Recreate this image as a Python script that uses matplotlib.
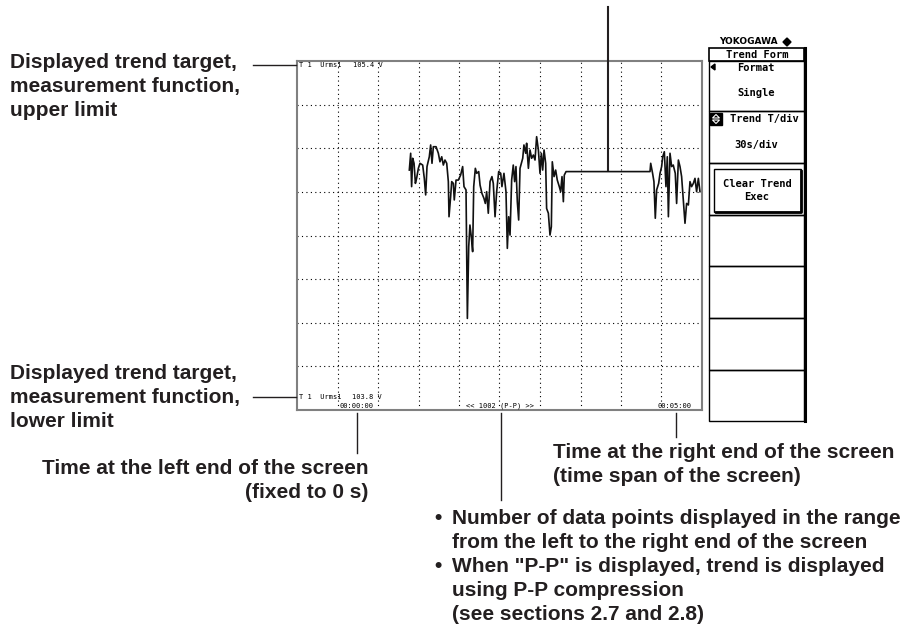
import matplotlib
matplotlib.use("Agg")
import matplotlib.pyplot as plt
from matplotlib.patches import Rectangle, Polygon

# trend data (time in s, Urms1 in V)
t_s = [83.2, 84.2, 84.9, 85.7, 86.7, 87.7, 88.6, 89.9, 91.1, 93.1, 94.3, 95.3, 96.3, 98.0,
       99.0, 100.0, 101.0, 103.0, 104.7, 105.9, 107.2, 108.4, 109.6, 110.9, 112.1, 112.6,
       113.8, 114.6, 115.8, 116.5, 117.8, 119.5, 121.2, 122.7, 123.7, 125.2, 126.2, 127.2,
       128.1, 129.1, 130.1, 130.9, 132.1, 133.1, 134.6, 135.6, 137.0, 138.5, 139.5, 140.5,
       141.7, 143.0, 144.4, 145.4, 146.7, 147.9, 149.4, 150.9, 151.8, 153.3, 154.8, 155.8,
       156.8, 157.8, 159.0, 160.2, 161.2, 162.2, 163.2, 164.2, 165.2, 167.2, 168.1, 169.4,
       170.1, 171.4, 172.6, 173.8, 175.1, 176.3, 177.5, 178.8, 180.0, 181.0, 182.0, 183.0,
       184.2, 184.9, 186.2, 187.4, 188.4, 189.1, 190.4, 191.6, 192.8, 194.3, 195.3, 196.3,
       197.3, 198.0, 199.3, 261.5, 262.0, 263.4, 264.4, 265.4, 266.4, 267.9, 268.9, 270.1,
       270.9, 272.1, 273.3, 274.3, 275.1, 276.3, 277.5, 278.7, 280.2, 281.2, 282.5, 283.7,
       284.9, 286.2, 287.4, 288.6, 289.9, 291.1, 292.3, 293.6, 294.8, 296.0, 297.3, 298.5]
urms = [104.900, 104.977, 104.824, 104.954, 104.931, 104.839, 104.862, 104.908, 104.931,
        104.923, 104.862, 104.786, 104.916, 104.961, 105.015, 104.931, 105.007, 105.007,
        104.977, 104.938, 104.961, 104.923, 104.946, 104.931, 104.847, 104.686, 104.778,
        104.847, 104.839, 104.763, 104.854, 104.854, 104.877, 104.916, 104.824, 104.809,
        104.220, 104.549, 104.648, 104.595, 104.526, 104.824, 104.908, 104.885, 104.893,
        104.831, 104.793, 104.770, 104.747, 104.801, 104.702, 104.847, 104.870, 104.839,
        104.686, 104.801, 104.893, 104.885, 104.824, 104.885, 104.801, 104.541, 104.686,
        104.602, 104.854, 104.923, 104.847, 104.916, 104.755, 104.671, 104.908, 104.954,
        105.015, 104.977, 105.023, 104.908, 104.992, 104.954, 104.969, 104.946, 105.053,
        104.992, 104.885, 104.977, 104.900, 104.992, 104.931, 104.724, 104.702, 104.602,
        104.640, 104.938, 104.870, 104.900, 104.854, 104.824, 104.801, 104.870, 104.755,
        104.877, 104.893, 104.893, 104.931, 104.885, 104.847, 104.679, 104.809, 104.839,
        104.885, 104.916, 104.961, 104.984, 104.824, 104.961, 104.686, 104.977, 104.916,
        104.923, 104.885, 104.747, 104.946, 104.916, 104.870, 104.755, 104.656, 104.747,
        104.740, 104.847, 104.824, 104.839, 104.862, 104.801, 104.862, 104.801]

upper_v = 105.4
lower_v = 103.8
span_s = 300
n_hdiv = 10
n_vdiv = 8
menu_labels = ["Format", "Single", "Trend T/div", "30s/div", "Clear Trend", "Exec"]

W, H = 917, 630
fig = plt.figure(figsize=(W / 100, H / 100), dpi=100)

# ---- instrument screen ----
sx0, sx1, sy0, sy1 = 297, 702, 61, 410
ax = fig.add_axes([sx0 / W, 1 - sy1 / H, (sx1 - sx0) / W, (sy1 - sy0) / H])
ax.set_xlim(0, span_s)
ax.set_ylim(lower_v, upper_v)
step_v = (upper_v - lower_v) / n_vdiv
for i in range(1, n_hdiv):
    ax.axvline(i * span_s / n_hdiv, color="black", lw=0.8, ls=(0, (1, 3)))
for i in range(1, n_vdiv):
    ax.axhline(lower_v + i * step_v, color="black", lw=0.8, ls=(0, (1, 3)))
ax.plot(t_s, urms, color="#111111", lw=1.2)
ax.set_xticks([])
ax.set_yticks([])
for sp in ax.spines.values():
    sp.set_color("#808080")
    sp.set_linewidth(1.5)

# ---- overlay in pixel coordinates ----
ov = fig.add_axes([0, 0, 1, 1])
ov.set_xlim(0, W)
ov.set_ylim(H, 0)
ov.axis("off")

mono = dict(family="DejaVu Sans Mono", fontsize=5, color="black")
ov.text(299, 65, "T 1  Urms1", va="center", **mono)
ov.text(353, 65, f"{upper_v} V", va="center", **mono)
ov.text(299, 397, "T 1  Urms1", va="center", **mono)
ov.text(352, 397, f"{lower_v} V", va="center", **mono)
ov.text(356, 406, "00:00:00", va="center", ha="center", **mono)
ov.text(500, 406, "<< 1002 (P-P) >>", va="center", ha="center", **mono)
ov.text(675, 406, "00:05:00", va="center", ha="center", **mono)

# soft-key menu
mx0, mx1 = 709, 804
ov.text(748, 42, "YOKOGAWA", ha="center", va="center", fontsize=6.5,
        family="DejaVu Sans", fontweight="bold")
ov.add_patch(Polygon([[787, 38], [791, 42], [787, 46], [783, 42]], closed=True,
                     color="black"))
ov.add_patch(Rectangle((mx0, 48), mx1 - mx0, 13, fill=False, lw=1.2, ec="black"))
ov.text(757, 54.5, "Trend Form", ha="center", va="center", fontsize=7.5,
        family="DejaVu Sans Mono", fontweight="bold")
box_edges = [61, 111, 163, 215, 266, 318, 370, 421]
for a, b in zip(box_edges[:-1], box_edges[1:]):
    ov.add_patch(Rectangle((mx0, a), mx1 - mx0, b - a, fill=False, lw=1.0, ec="black"))
ov.plot([mx1 + 0.5, mx1 + 0.5], [48, 421], color="black", lw=2.2)
mfont = dict(family="DejaVu Sans Mono", fontweight="bold", fontsize=7.5,
             ha="center", va="center")
ov.add_patch(Polygon([[711, 67], [715, 64], [715, 70]], closed=True, color="black"))
ov.text(756, 68, menu_labels[0], **mfont)
ov.text(756, 93, menu_labels[1], **mfont)
ov.add_patch(Rectangle((710, 113), 12, 12, color="black"))
ov.add_patch(Polygon([[712.5, 118], [716, 114.5], [719.5, 118]], closed=True,
                     fill=False, ec="white", lw=0.8))
ov.add_patch(Polygon([[712.5, 120], [716, 123.5], [719.5, 120]], closed=True,
                     fill=False, ec="white", lw=0.8))
ov.text(764, 119, menu_labels[2], **mfont)
ov.text(756, 145, menu_labels[3], **mfont)
ov.add_patch(Rectangle((714, 169), 87, 43, fill=False, lw=1.0, ec="black"))
ov.plot([716, 801, 801], [212, 212, 171], color="black", lw=2.0)
ov.text(757, 184, menu_labels[4], **mfont)
ov.text(757, 197, menu_labels[5], **mfont)

# ---- annotations ----
lab = dict(family="Liberation Sans", fontweight="bold", fontsize=15, color="#231f20",
           va="baseline")
lc = dict(color="#231f20", lw=1.0)
dy = 24

for i, s in enumerate(["Displayed trend target,", "measurement function,", "upper limit"]):
    ov.text(10, 68 + dy * i, s, **lab)
ov.plot([253, 296], [65, 65], **lc)

for i, s in enumerate(["Displayed trend target,", "measurement function,", "lower limit"]):
    ov.text(10, 379 + dy * i, s, **lab)
ov.plot([253, 296], [397, 397], **lc)

ov.plot([357, 357], [413, 453], **lc)
for i, s in enumerate(["Time at the left end of the screen", "(fixed to 0 s)"]):
    ov.text(368, 474 + dy * i, s, ha="right", **lab)

ov.plot([676, 676], [413, 437], **lc)
for i, s in enumerate(["Time at the right end of the screen", "(time span of the screen)"]):
    ov.text(553, 458 + dy * i, s, **lab)

ov.plot([501, 501], [413, 500], **lc)
bullet_lines = [("\u2022", "Number of data points displayed in the range"),
                ("", "from the left to the right end of the screen"),
                ("\u2022", "When \"P-P\" is displayed, trend is displayed"),
                ("", "using P-P compression"),
                ("", "(see sections 2.7 and 2.8)")]
for i, (b, s) in enumerate(bullet_lines):
    if b:
        ov.text(434, 524 + dy * i, b, **lab)
    ov.text(452, 524 + dy * i, s, **lab)

ov.plot([608, 608], [7, 170], color="#231f20", lw=1.5)

fig.savefig("out.png", dpi=100)
